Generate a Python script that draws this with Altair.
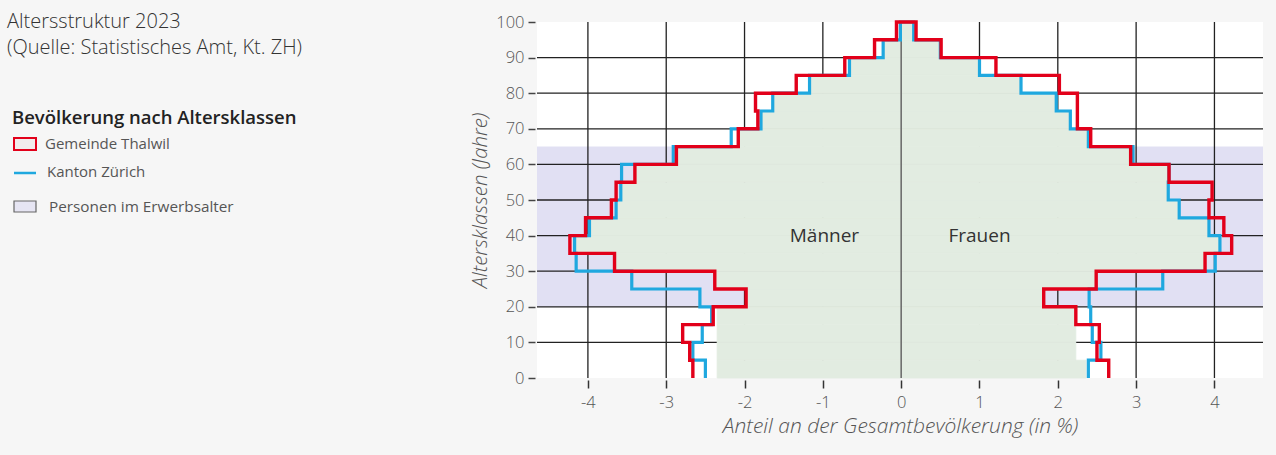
import altair as alt
import pandas as pd

# ---------------- data ----------------
ages = [0, 5, 10, 15, 20, 25, 30, 35, 40, 45, 50, 55, 60, 65, 70, 75, 80, 85, 90, 95]

thalwil_m = [-2.66, -2.70, -2.79, -2.40, -1.98, -2.38, -3.66, -4.23, -4.03, -3.70,
             -3.64, -3.40, -2.87, -2.08, -1.83, -1.86, -1.34, -0.72, -0.34, -0.06]
thalwil_f = [2.65, 2.50, 2.53, 2.23, 1.82, 2.49, 3.88, 4.22, 4.12, 3.93,
             3.97, 3.42, 2.93, 2.42, 2.25, 2.25, 2.02, 1.21, 0.51, 0.19]
kanton_m = [-2.50, -2.66, -2.54, -2.42, -2.57, -3.44, -4.15, -4.17, -3.98, -3.64,
            -3.58, -3.57, -2.91, -2.17, -1.79, -1.64, -1.17, -0.66, -0.23, -0.01]
kanton_f = [2.39, 2.55, 2.44, 2.42, 2.40, 3.34, 4.01, 4.07, 3.93, 3.55,
            3.41, 3.42, 2.96, 2.39, 2.16, 1.98, 1.53, 1.00, 0.50, 0.16]
fill_m = [-2.35, -2.35, -2.35, -2.35, -1.98, -2.38, -3.66, -4.17, -3.98, -3.64,
          -3.58, -3.40, -2.87, -2.08, -1.79, -1.64, -1.17, -0.66, -0.23, -0.01]
fill_f = [2.36, 2.23, 2.23, 2.23, 1.82, 2.49, 3.88, 4.07, 3.93, 3.55,
          3.41, 3.42, 2.93, 2.39, 2.16, 1.98, 1.53, 1.00, 0.50, 0.16]

band_from = [20]
band_to = [65]
x_domain = [-4.65, 4.62]
y_domain = [0, 100]
x_ticks = [-4, -3, -2, -1, 0, 1, 2, 3, 4]
y_ticks = [0, 10, 20, 30, 40, 50, 60, 70, 80, 90, 100]
grid_x = [-4, -3, -2, -1, 1, 2, 3, 4]
grid_y = [10, 20, 30, 40, 50, 60, 70, 80, 90]
sex_labels = ["Männer", "Frauen"]
sex_label_x = [-0.98, 1.0]
sex_label_y = [40, 40]

BAND = 5
RED = "#e2001a"
BLUE = "#1fa8df"
GREEN = "#e2ece1"
LAV = "#dad8f0"
FONT = "Open Sans"

W, H = 726, 356
PL, PT = 537, 22

X_SCALE = alt.Scale(domain=x_domain, nice=False, zero=False)
Y_SCALE = alt.Scale(domain=y_domain, nice=False, zero=False)
X_AXIS = alt.Axis(values=x_ticks, labelExpr="'' + datum.value", grid=False, domain=False,
                  tickSize=8, tickWidth=1.5, tickColor="#333", offset=2,
                  labelFont=FONT, labelFontSize=16.5, labelColor="#555", labelPadding=6,
                  labelFontWeight=300, labelOverlap=False,
                  title="Anteil an der Gesamtbevölkerung (in %)", titleFont=FONT,
                  titleFontSize=21, titleFontStyle="italic", titleFontWeight=300,
                  titleColor="#555", titlePadding=5)
Y_AXIS = alt.Axis(values=y_ticks, grid=False, domain=False, tickSize=7, tickWidth=1.5,
                  tickColor="#444", offset=2, labelFont=FONT, labelFontSize=16.5,
                  labelFontWeight=300, labelOverlap=False,
                  labelColor="#555", labelPadding=4,
                  title="Altersklassen (Jahre)", titleFont=FONT, titleFontSize=20.5,
                  titleFontStyle="italic", titleFontWeight=300, titleColor="#555",
                  titlePadding=5)


def X(f):
    return alt.X(f, type="quantitative", scale=X_SCALE, axis=X_AXIS)


def Y(f):
    return alt.Y(f, type="quantitative", scale=Y_SCALE, axis=Y_AXIS)


def path(m, f):
    rows = []
    for a, v in zip(ages, m):
        rows.append((v, a))
        rows.append((v, a + BAND))
    for a, v in reversed(list(zip(ages, f))):
        rows.append((v, a + BAND))
        rows.append((v, a))
    return pd.DataFrame({"x": [r[0] for r in rows], "y": [r[1] for r in rows],
                         "o": list(range(len(rows)))})


# background band (working age)
band = alt.Chart(pd.DataFrame({"y": band_from, "y2": band_to,
                               "x": [x_domain[0]], "x2": [x_domain[1]]})).mark_rect(
    color=LAV, opacity=0.8).encode(x=X("x"), x2="x2:Q", y=Y("y"), y2="y2:Q")

# grid lines
vgrid = alt.Chart(pd.DataFrame({"x": grid_x, "y": [y_domain[0]] * len(grid_x),
                                "y2": [y_domain[1]] * len(grid_x)})).mark_rule(
    color="#222", strokeWidth=1.3).encode(x=X("x"), y=Y("y"), y2="y2:Q")
hgrid = alt.Chart(pd.DataFrame({"y": grid_y, "x": [x_domain[0]] * len(grid_y),
                                "x2": [x_domain[1]] * len(grid_y)})).mark_rule(
    color="#222", strokeWidth=1.3).encode(y=Y("y"), x=X("x"), x2="x2:Q")

# green population fill
fill_df = pd.DataFrame({
    "y": ages + ages,
    "y2": [a + BAND for a in ages] * 2,
    "x": [0.0] * (2 * len(ages)),
    "x2": fill_m + fill_f,
})
fill = alt.Chart(fill_df).mark_rect(color=GREEN, stroke=GREEN, strokeWidth=0.8).encode(
    x=X("x"), x2="x2:Q", y=Y("y"), y2="y2:Q")

# center line
center = alt.Chart(pd.DataFrame({"x": [0], "y": [y_domain[0]], "y2": [y_domain[1]]})).mark_rule(
    color="#666", strokeWidth=1.5).encode(x=X("x"), y=Y("y"), y2="y2:Q")

kanton = alt.Chart(path(kanton_m, kanton_f)).mark_line(
    color=BLUE, strokeWidth=3.2, strokeJoin="miter", strokeCap="butt").encode(
    x=X("x"), y=Y("y"), order="o:Q")
thalwil = alt.Chart(path(thalwil_m, thalwil_f)).mark_line(
    color=RED, strokeWidth=3.4, strokeJoin="miter", strokeCap="butt").encode(
    x=X("x"), y=Y("y"), order="o:Q")

sex_text = alt.Chart(pd.DataFrame({"t": sex_labels, "x": sex_label_x, "y": sex_label_y})).mark_text(
    font=FONT, fontSize=19, color="#333").encode(x=X("x"), y=Y("y"), text="t:N")

# ---------------- title & legend (outside plot area) ----------------
one = pd.DataFrame({"a": [0]})


def txt(Xp, Yp, s, size, weight="normal", color="#333", font=FONT):
    return alt.Chart(one).mark_text(text=s, font=font, fontSize=size, fontWeight=weight,
                                    color=color, align="left", baseline="middle").encode(
        x=alt.value(Xp - PL), y=alt.value(Yp - PT))


def box(X1, Y1, X2, Y2, fillc, strokec, sw):
    return alt.Chart(one).mark_rect(fill=fillc, stroke=strokec, strokeWidth=sw).encode(
        x=alt.value(X1 - PL), x2=alt.value(X2 - PL), y=alt.value(Y1 - PT), y2=alt.value(Y2 - PT))


title1 = txt(7, 21.5, "Altersstruktur 2023", 20, weight=300, color="#333")
title2 = txt(7, 47.5, "(Quelle: Statistisches Amt, Kt. ZH)", 20, weight=300, color="#333")
leg_head = txt(12, 118, "Bevölkerung nach Altersklassen", 18.5, weight=600, color="#222")
leg1_icon = box(14, 138, 36, 150, "#f1ecec", RED, 2)
leg1 = txt(45, 144, "Gemeinde Thalwil", 15, color="#555")
leg2_icon = alt.Chart(one).mark_rule(color=BLUE, strokeWidth=2.5).encode(
    x=alt.value(14 - PL), x2=alt.value(36 - PL), y=alt.value(173 - PT))
leg2 = txt(47, 172, "Kanton Zürich", 15, color="#555")
leg3_icon = box(14, 201, 36, 212, "#e6e5f3", "#666", 1.2)
leg3 = txt(49, 207, "Personen im Erwerbsalter", 15.3, color="#555")

chart = alt.layer(
    band, vgrid, hgrid, fill, center, kanton, thalwil, sex_text,
    title1, title2, leg_head, leg1_icon, leg1, leg2_icon, leg2, leg3_icon, leg3,
).properties(
    width=W, height=H,
    autosize=alt.AutoSizeParams(type="none"),
    padding={"left": PL, "top": PT, "right": 1276 - PL - W, "bottom": 455 - PT - H},
    background="#f6f6f6",
).configure_view(fill="white", stroke=None).configure_axis(labelOverlap=False)

chart.save("out.html", embed_options={"renderer": "svg", "actions": False})
